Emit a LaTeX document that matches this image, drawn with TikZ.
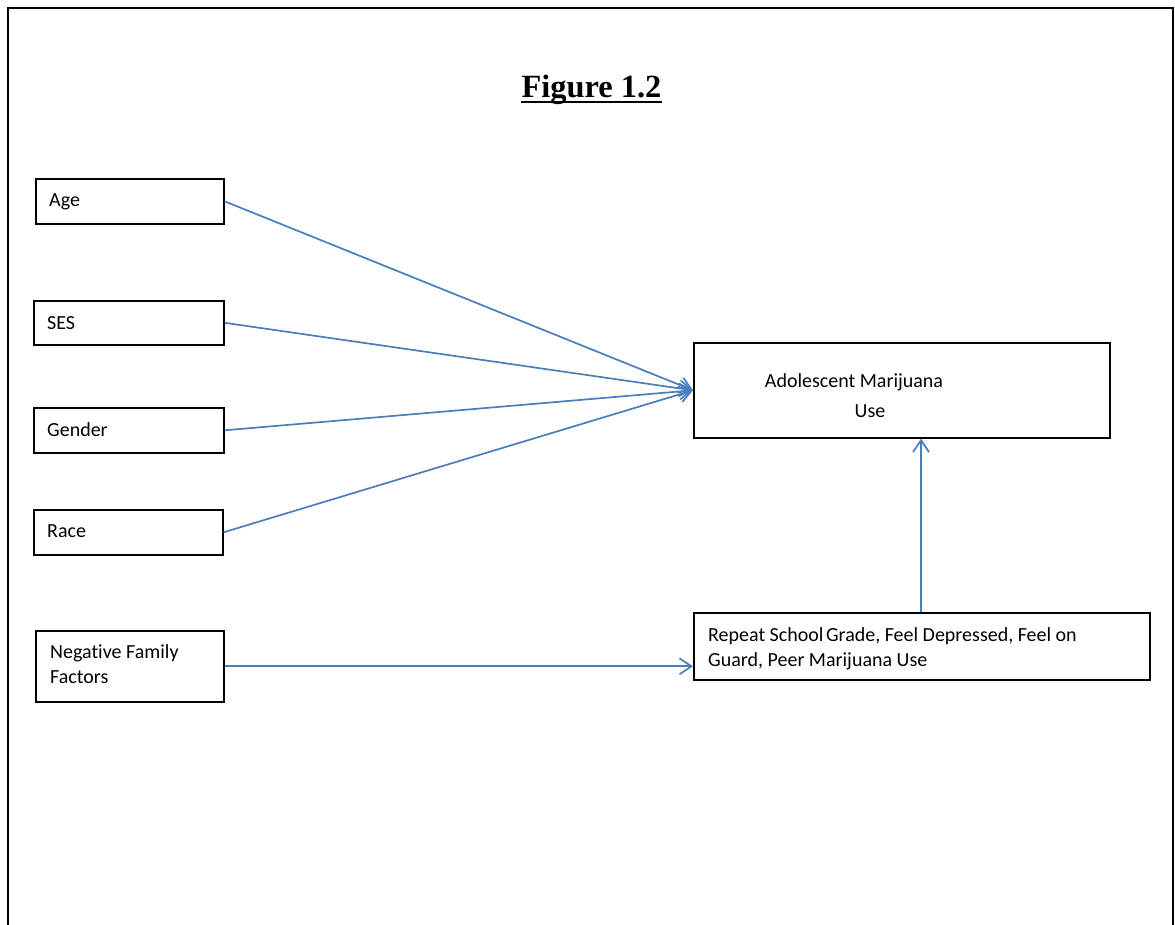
\documentclass[tikz,border=0pt]{standalone}
\usepackage{fontspec}
\setmainfont[Ligatures={NoCommon}]{Carlito}
\newfontfamily\titlefont{Liberation Serif}
\usetikzlibrary{arrows.meta,calc}
\definecolor{arrowblue}{RGB}{74,126,187}
\tikzset{
  box/.style={draw=black, line width=1.6, rectangle, inner sep=0pt, anchor=north west},
  lbl/.style={inner sep=0pt, anchor=base west, font=\fontsize{20}{25}\selectfont, align=left},
  conn/.style={draw=arrowblue, line width=1.7, -{Straight Barb[length=12, width=16, line width=1.7]}}
}
\begin{document}
\begin{tikzpicture}[x=1pt,y=-1pt]
\useasboundingbox (0,0) rectangle (1175,924);
\clip (0,0) rectangle (1175,924);
% outer frame
\draw[line width=2.5] (8,940) -- (8,8) -- (1173,8) -- (1173,940);
% title
\node[inner sep=0pt, anchor=base, font=\titlefont\bfseries\fontsize{32.4}{36}\selectfont] (title) at (591.5,97) {Figure 1.2};
\draw[line width=2.6] ($(title.base west)+(0,4.8)$) -- ($(title.base east)+(0,4.8)$);
% left boxes
\node[box, minimum width=188, minimum height=45] (age) at (35,178) {};
\node[lbl] (agel) at (49,206) {Age};
\node[box, minimum width=190, minimum height=44] (ses) at (33,300) {};
\node[lbl] (sesl) at (47,329) {SES};
\node[box, minimum width=190, minimum height=45] (gender) at (33,407) {};
\node[lbl] (genderl) at (47,436) {Gender};
\node[box, minimum width=189, minimum height=45] (race) at (33,509) {};
\node[lbl] (racel) at (47,537) {Race};
\node[box, minimum width=188, minimum height=71] (nff) at (35,630) {};
\node[lbl, anchor=north west] (nffl) at (50,644) {Negative Family\\Factors};
% right boxes
\node[box, minimum width=416, minimum height=95] (adol) at (693,342) {};
\node[inner sep=0pt, anchor=base, font=\fontsize{20}{30}\selectfont, align=center] (adoll) at (854,417) {Adolescent Marijuana\\\hspace*{32pt}Use};
\node[box, minimum width=456, minimum height=67] (rep) at (693,612) {};
\node[lbl, anchor=north west] (repl) at (708,627) {Repeat School\hspace{-2pt} Grade, Feel Depressed, Feel on\\Guard, Peer Marijuana Use};
% connectors
\draw[conn] (age.east) -- (adol.west);
\draw[conn] (ses.east) -- (adol.west);
\draw[conn] (gender.east) -- (adol.west);
\draw[conn] (race.east) -- (adol.west);
\draw[conn] (nff.east) -- (nff.east -| rep.west);
\draw[conn] ([xshift=228]rep.north west) -- ([xshift=228]adol.south west);
\end{tikzpicture}
\end{document}
